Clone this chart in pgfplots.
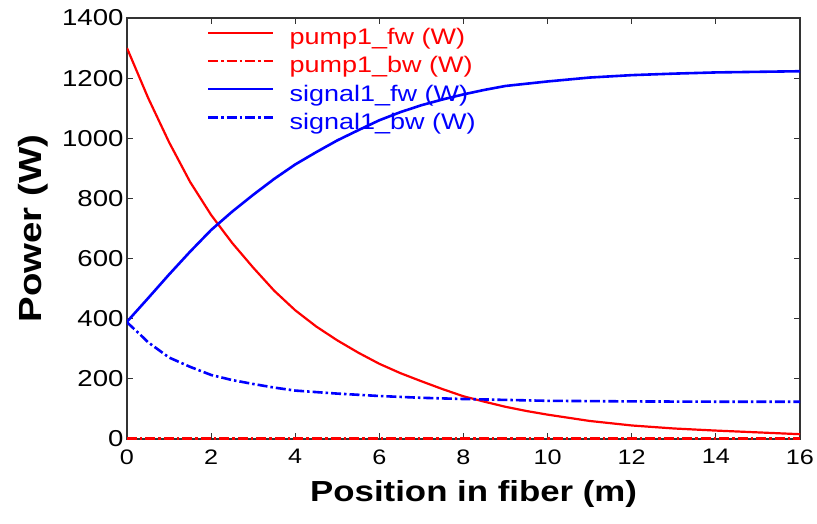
\documentclass[border=0pt]{standalone}
\usepackage{fontspec}
\setmainfont{Liberation Sans}[FakeStretch=1.2]
\usepackage{pgfplots}
\pgfplotsset{compat=1.18}
\begin{document}
\begin{tikzpicture}
\begin{axis}[
  name=ax,
  scale only axis,
  width=673pt, height=421pt,
  xmin=0, xmax=16, ymin=0, ymax=1400,
  xtick={0,2,...,16}, ytick={0,200,...,1400},
  tick align=inside,
  major tick length=6pt,
  axis line style={black!80, line width=1.2pt},
  every tick/.style={black!80, line width=1pt},
  /pgf/number format/assume math mode=true,
  /pgf/number format/1000 sep={},
  xticklabel style={font=\fontsize{21}{25}\selectfont, yshift=-7pt},
  yticklabel style={font=\fontsize{23}{27}\selectfont},
  xlabel={Position in fiber (m)},
  ylabel={Power (W)},
  xlabel style={font=\fontsize{29}{34}\selectfont\bfseries, at={(axis description cs:0.515,-0.1496)}, anchor=base},
  ylabel style={font=\fontsize{32}{36}\selectfont\bfseries, at={(axis description cs:-0.1263,0.5)}, anchor=base},
  legend image code/.code={\draw[#1] (0pt,6pt) -- (65pt,6pt);},
  legend cell align=left,
  legend style={draw=none, fill=none, at={(axis description cs:0.114,0.982)}, anchor=north west,
    font=\fontsize{22.5}{26}\selectfont, row sep=6.2pt,
    nodes={inner sep=0pt, text height=17pt, text depth=5pt},
    /tikz/every odd column/.append style={column sep=15pt}},
]
\addplot[red, line width=2.2pt] coordinates {
(0,1300) (0.5,1135) (1,987) (1.5,855) (2,745) (2.5,652) (3,570) (3.5,493) (4,428) (4.5,374) (5,328) (5.5,287) (6,250) (6.5,219) (7,192) (7.5,166) (8,142) (8.5,124) (9,107) (9.5,93) (10,81) (11,60) (12,45) (13,35) (14,28) (15,22) (16,16)};
\addlegendentry{\color{red}pump1\_fw (W)}
\addplot[red, line width=2.2pt, dash pattern=on 10pt off 3pt on 2.5pt off 3pt] coordinates {
(0,2) (4,2) (8,2) (12,2) (16,2)};
\addlegendentry{\color{red}pump1\_bw (W)}
\addplot[blue, line width=2.6pt] coordinates {
(0,390) (0.5,468) (1,547) (1.5,623) (2,695) (2.5,756) (3,812) (3.5,865) (4,913) (4.5,954) (5,993) (5.5,1027) (6,1060) (6.5,1087) (7,1110) (7.5,1129) (8,1146) (8.5,1161) (9,1174) (10,1189) (11,1202) (12,1210) (13,1215) (14,1219) (15,1221) (16,1223)};
\addlegendentry{\color{blue}signal1\_fw (W)}
\addplot[blue, line width=2.6pt, dash pattern=on 10pt off 3pt on 2.5pt off 3pt] coordinates {
(0,388) (0.3,349) (0.5,322) (1,271) (1.5,240) (2,213) (2.5,196) (3,183) (3.5,171) (4,161) (5,151) (6,143) (7,137) (8,133) (9,130) (10,127) (12,125) (14,124) (16,124)};
\addlegendentry{\color{blue}signal1\_bw (W)}
\end{axis}
\pgfresetboundingbox
\path ([shift={(-127pt,-84pt)}]ax.south west) rectangle ([shift={(17pt,18pt)}]ax.north east);
\end{tikzpicture}
\end{document}
